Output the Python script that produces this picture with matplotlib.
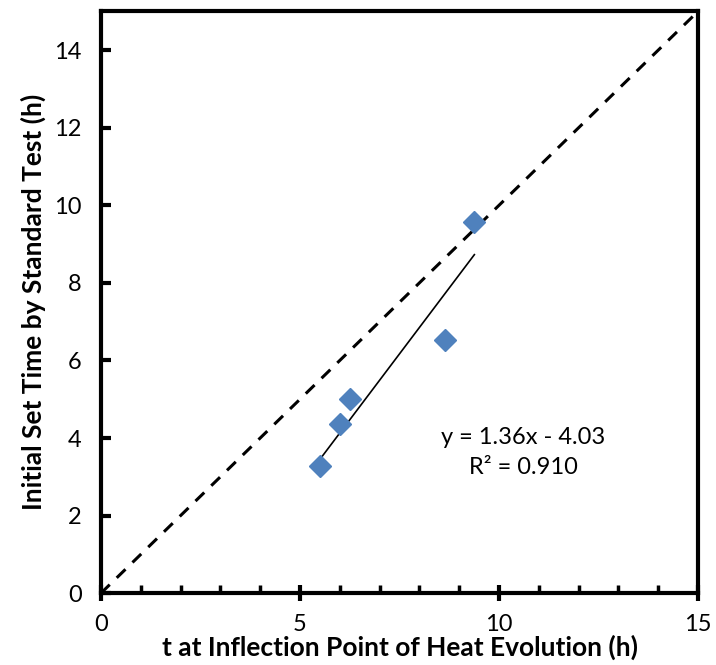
import matplotlib
matplotlib.use("Agg")
import matplotlib.pyplot as plt
from matplotlib.ticker import MultipleLocator
import numpy as np

# Inflection-point time vs. standard-test initial set time (hours)
t_inflection = [5.5, 6.0, 6.25, 8.65, 9.38]
initial_set = [3.28, 4.35, 5.0, 6.52, 9.58]

slope = 1.36
intercept = -4.03
r_squared = 0.910

x_ticks = [0, 5, 10, 15]
y_ticks = [0, 2, 4, 6, 8, 10, 12, 14]

plt.rcParams['font.family'] = ['Lato', 'DejaVu Sans']

fig = plt.figure(figsize=(7.16, 6.65), dpi=100)
ax = fig.add_axes([0.141, 0.108, 0.834, 0.875])

# 1:1 reference line
ax.plot([0, 15], [0, 15], color='black', lw=2.2, ls=(0, (4, 3.2)), zorder=2)

# linear trendline over the data range
xs = np.array([min(t_inflection), max(t_inflection)])
ax.plot(xs, slope * xs + intercept, color='black', lw=1.2, zorder=2)

ax.plot(t_inflection, initial_set, ls='none', marker='D', ms=11,
        color='#4F81BD', mec='#4F81BD', zorder=3)

ax.text(10.6, 4.02, f"y = {slope:.2f}x - {abs(intercept):.2f}", ha='center',
        va='center', fontsize=17)
ax.text(10.6, 3.25, f"R² = {r_squared:.3f}", ha='center', va='center', fontsize=17)

ax.set_xlim(0, 15)
ax.set_ylim(0, 15)
ax.set_xticks(x_ticks)
ax.set_yticks(y_ticks)
ax.xaxis.set_minor_locator(MultipleLocator(1))

for s in ax.spines.values():
    s.set_linewidth(3)

ax.tick_params(axis='x', which='major', direction='inout', length=12, width=3,
               labelsize=17, pad=9)
ax.tick_params(axis='x', which='minor', direction='in', length=6, width=2.5)
ax.tick_params(axis='y', which='major', direction='in', length=7, width=3,
               labelsize=17, pad=14)

ax.set_xlabel('t at Inflection Point of Heat Evolution (h)', fontsize=19,
              fontweight='bold', labelpad=0)
ax.set_ylabel('Initial Set Time by Standard Test (h)', fontsize=19,
              fontweight='bold', labelpad=6)

fig.savefig('out.png', dpi=100)
